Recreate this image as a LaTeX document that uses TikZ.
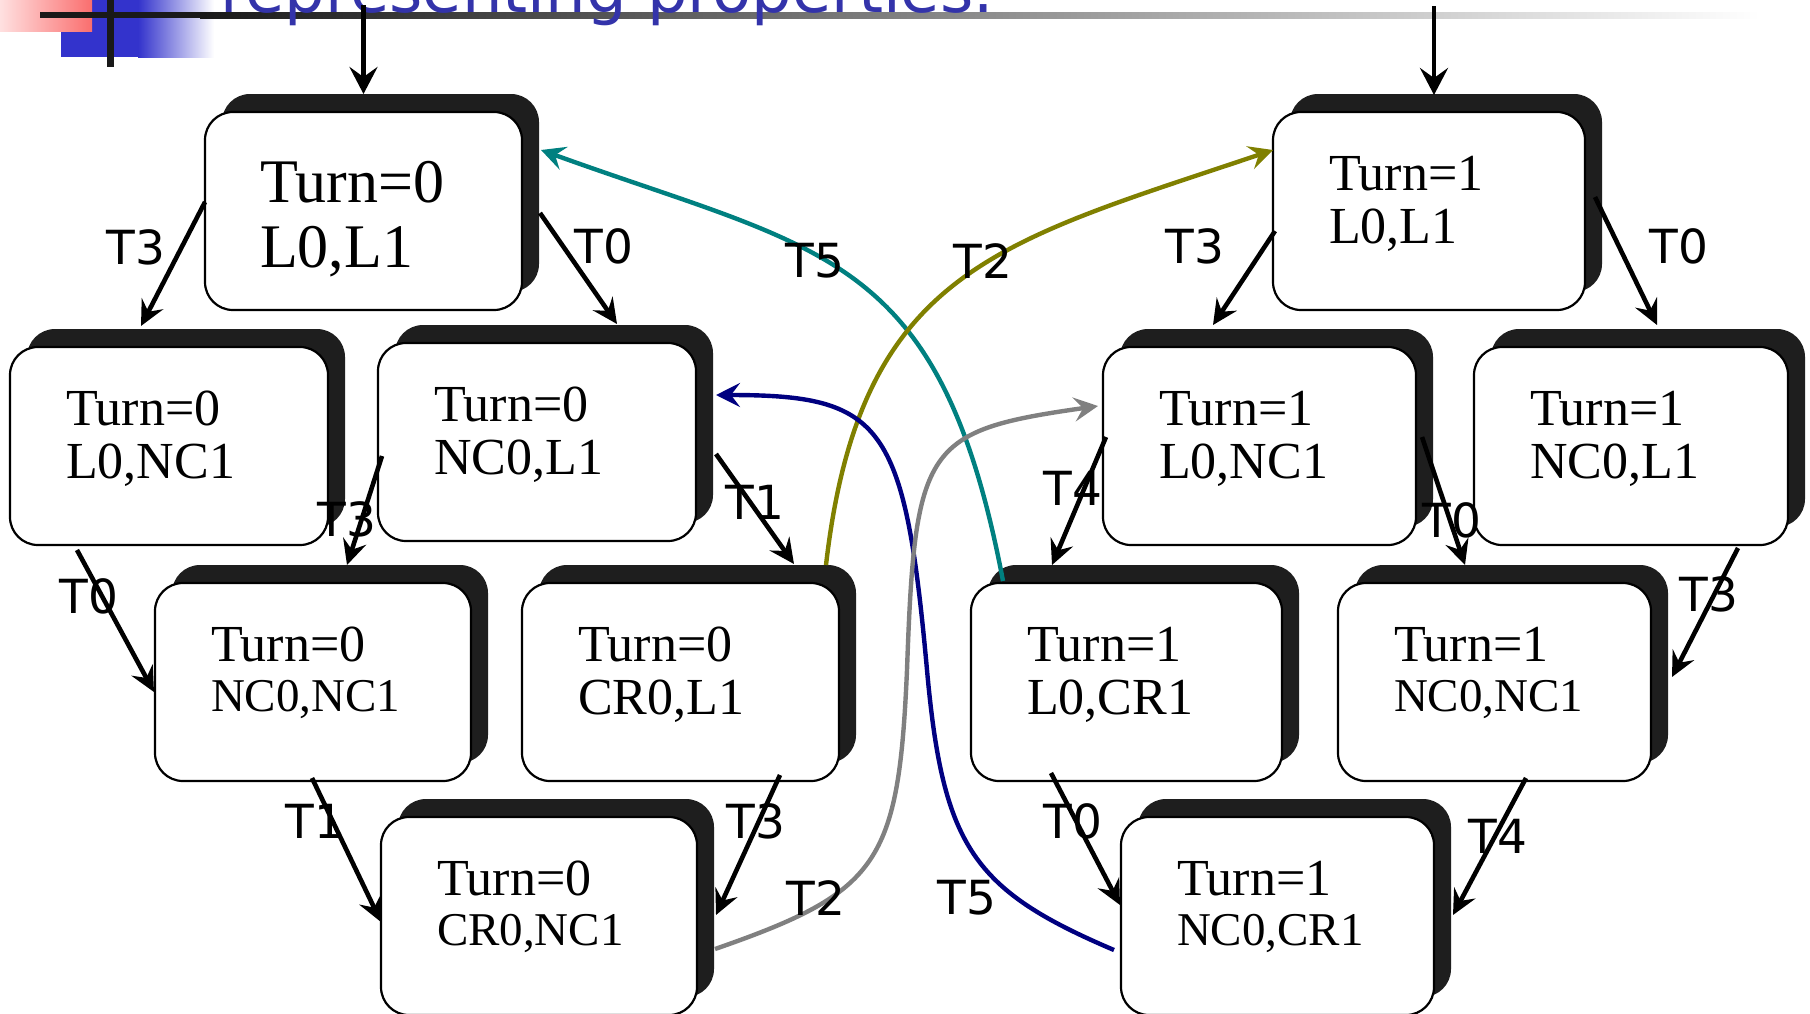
\documentclass[tikz,border=0pt]{standalone}
\usepackage{fontspec}
\setmainfont{Liberation Serif}
\newfontfamily\lblfont{DejaVu Sans}
\usetikzlibrary{arrows.meta}
\definecolor{shadowc}{RGB}{30,30,30}
\definecolor{tealc}{RGB}{0,128,128}
\definecolor{olivec}{RGB}{128,128,0}
\definecolor{navyc}{RGB}{0,0,128}
\definecolor{grayc}{RGB}{128,128,128}
\definecolor{titleblue}{RGB}{51,51,170}
\definecolor{sqblue}{RGB}{51,51,204}
\definecolor{sqred}{RGB}{250,110,110}
\tikzset{
 shadowbox/.style={rectangle, rounded corners=28pt, fill=shadowc, minimum height=198pt, inner sep=0pt, outer sep=0pt},
 statebox/.style={rectangle, rounded corners=28pt, draw=black, line width=2.2pt, fill=white, minimum height=198pt, inner sep=0pt, outer sep=0pt},
 txt/.style={inner sep=0pt, outer sep=0pt, anchor=base west, font=\fontsize{52}{60}\selectfont},
 txtsmall/.style={inner sep=0pt, outer sep=0pt, anchor=base west, yshift=3pt, font=\fontsize{47}{54}\selectfont},
 txtbig/.style={inner sep=0pt, outer sep=0pt, anchor=base west, font=\fontsize{62}{70}\selectfont},
 trans/.style={line width=4.6pt, -{Stealth[length=25pt,width=24pt,inset=9pt]}},
 entry/.style={line width=4.6pt, -{Stealth[length=27pt,width=28pt,inset=10pt]}},
 curve/.style={line width=4.4pt, -{Stealth[length=24pt,width=24pt,inset=9pt]}},
 lbl/.style={inner sep=0pt, font=\lblfont\fontsize{47}{50}\selectfont},
}
\newcommand\mkstate[7]{%
  \node[shadowbox, minimum width=#4pt] (#1s) at ({#2+17},{#3-18}) {};
  \node[statebox, minimum width=#4pt] (#1) at (#2,#3) {};
  \node[txt] (#1a) at ({#2-#4/2+56},{#3-21}) {#5};
  \node[#7] (#1b) at ({#2-#4/2+56},{#3+32}) {#6};
}
\begin{document}
\begin{tikzpicture}[x=1pt,y=-1pt]
\useasboundingbox (0,0) rectangle (1810,1013);
\fill[white] (0,0) rectangle (1810,1013);
% header decoration
\fill[sqblue] (61,0) rectangle (138,57);
\shade[left color=sqblue, right color=white] (138,0) rectangle (214,57);
\shade[left color=red!12, right color=sqred] (0,0) rectangle (92,31);
\fill[black!90] (40,12) rectangle (200,18);
\shade[left color=black!90, right color=white] (200,12) rectangle (1760,18);
\fill[black!90] (107,0) rectangle (114,67);
\node[anchor=base west, inner sep=0pt, text=titleblue, font=\lblfont\fontsize{64}{70}\selectfont] (title) at (220,12.5) {representing properties.};
% states
\node[shadowbox, minimum width=317pt] (As) at (380.5,193) {};
\node[statebox, minimum width=317pt] (A) at (363.5,211) {};
\node[txtbig] (Aa) at (260,202) {Turn=0};
\node[txtbig] (Ab) at (260,267) {L0,L1};
\mkstate{B}{169}{446}{318}{Turn=0}{L0,NC1}{txt}
\mkstate{C}{537}{442}{318}{Turn=0}{NC0,L1}{txt}
\mkstate{D}{313}{682}{316}{Turn=0}{NC0,NC1}{txtsmall}
\mkstate{E}{680.5}{682}{317}{Turn=0}{CR0,L1}{txt}
\mkstate{F}{539}{916}{316}{Turn=0}{CR0,NC1}{txtsmall}
\mkstate{G}{1429}{211}{312}{Turn=1}{L0,L1}{txt}
\mkstate{H}{1259.5}{446}{313}{Turn=1}{L0,NC1}{txt}
\mkstate{I}{1631}{446}{314}{Turn=1}{NC0,L1}{txt}
\mkstate{J}{1126.5}{682}{311}{Turn=1}{L0,CR1}{txt}
\mkstate{K}{1494.5}{682}{313}{Turn=1}{NC0,NC1}{txtsmall}
\mkstate{L}{1277.5}{916}{313}{Turn=1}{NC0,CR1}{txtsmall}
% entry arrows
\coordinate (inA) at (363.5,5);
\coordinate (inG) at (1434,6);
\draw[entry] (inA) -- ([shift={(0,-117)}]A.center);
\draw[entry] (inG) -- ([shift={(5,-116)}]G.center);
% black transitions
\draw[trans] ([shift={(-158.5,-9)}]A.center) -- ([shift={(-28,-120)}]B.center);
\draw[trans] ([shift={(176.5,2)}]A.center) -- ([shift={(80,-118)}]C.center);
\draw[trans] ([shift={(-154,20)}]G.center) -- ([shift={(-46.5,-121)}]H.center);
\draw[trans] ([shift={(166,-14)}]G.center) -- ([shift={(26,-121)}]I.center);
\draw[trans] ([shift={(-155,14)}]C.center) -- ([shift={(34,-117)}]D.center);
\draw[trans] ([shift={(179,12)}]C.center) -- ([shift={(113.5,-118)}]E.center);
\draw[trans] ([shift={(-92,104)}]B.center) -- ([shift={(-159,10)}]D.center);
\draw[trans] ([shift={(-1,96)}]D.center) -- ([shift={(-158,6)}]F.center);
\draw[trans] ([shift={(99.5,93)}]E.center) -- ([shift={(177,-1)}]F.center);
\draw[trans] ([shift={(-153.5,-9)}]H.center) -- ([shift={(-74.5,-117)}]J.center);
\draw[trans] ([shift={(162.5,-9)}]H.center) -- ([shift={(-29.5,-117)}]K.center);
\draw[trans] ([shift={(107,102)}]I.center) -- ([shift={(177.5,-5)}]K.center);
\draw[trans] ([shift={(-75.5,91)}]J.center) -- ([shift={(-157.5,-11)}]L.center);
\draw[trans] ([shift={(31.5,96)}]K.center) -- ([shift={(175.5,-1)}]L.center);
% coloured transitions
\coordinate (navymid) at (927,670);
\coordinate (graymid) at (907,670);
\draw[curve, draw=tealc] ([shift={(-123.5,-101)}]J.center) .. controls (940,250) and (823,252) .. ([shift={(177.5,-61)}]A.center);
\draw[curve, draw=olivec] ([shift={(145.5,-117)}]E.center) .. controls (860,270) and (997,243) .. ([shift={(-156,-61)}]G.center);
\draw[curve, draw=navyc] ([shift={(-163.5,34)}]L.center) .. controls (973,890) and (943,847) .. (navymid) .. controls (904.5,422.5) and (883,395) .. ([shift={(179,-47)}]C.center);
\draw[curve, draw=grayc] ([shift={(176,33)}]F.center) .. controls (879,892) and (898.5,864) .. (graymid) .. controls (915,444) and (924.6,430.7) .. ([shift={(-161.5,-40)}]H.center);
% labels
\node[lbl] (lAB) at (136,247) {T3};
\node[lbl] (lAC) at (604,246.5) {T0};
\node[lbl] (lT5a) at (815,261) {T5};
\node[lbl] (lT2a) at (983,261) {T2};
\node[lbl] (lGH) at (1195,246) {T3};
\node[lbl] (lGI) at (1679,246) {T0};
\node[lbl] (lCD) at (347,519) {T3};
\node[lbl] (lCE) at (755,502) {T1};
\node[lbl] (lBD) at (89,596) {T0};
\node[lbl] (lHJ) at (1073,488) {T4};
\node[lbl] (lHK) at (1452,520) {T0};
\node[lbl] (lIK) at (1709,594) {T3};
\node[lbl] (lDF) at (315,821) {T1};
\node[lbl] (lEF) at (756,821) {T3};
\node[lbl] (lT2b) at (816,898) {T2};
\node[lbl] (lT5b) at (967,898) {T5};
\node[lbl] (lJL) at (1073,821) {T0};
\node[lbl] (lKL) at (1498,836) {T4};
\end{tikzpicture}
\end{document}
